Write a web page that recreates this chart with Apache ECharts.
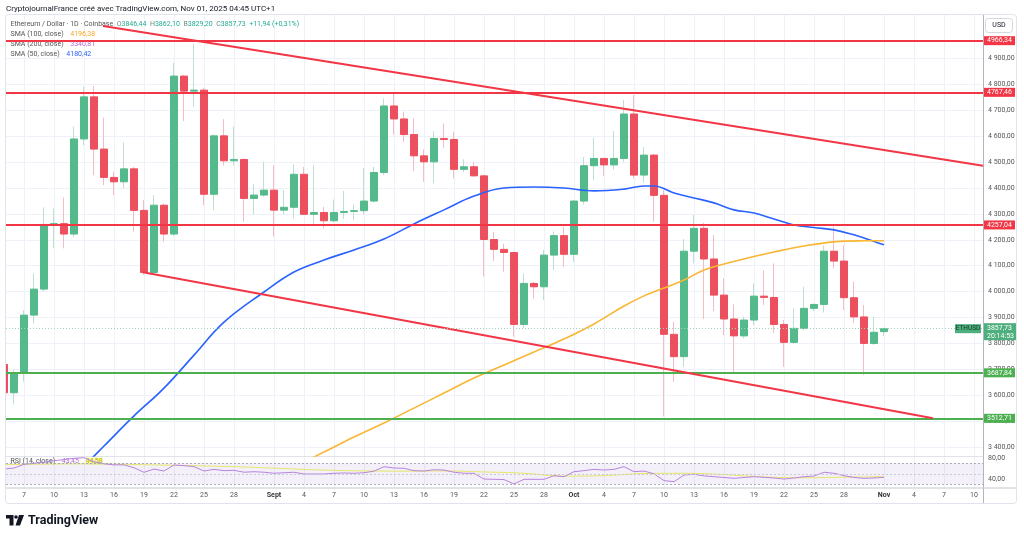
<!DOCTYPE html>
<html lang="fr">
<head>
<meta charset="UTF-8">
<title>ETHUSD 1D - Coinbase</title>
<script src="https://cdn.jsdelivr.net/npm/echarts@6/dist/echarts.min.js"></script>
<style>
    html, body { margin: 0; padding: 0; background: #fff; }
    #main { width: 1024px; height: 538px; }
</style>
</head>
<body>
<div id="main"></div>
<script>
// bougies journalières ETH/USD
var dates = ['08-05','08-06','08-07','08-08','08-09','08-10','08-11','08-12','08-13','08-14','08-15','08-16','08-17','08-18','08-19','08-20','08-21','08-22','08-23','08-24','08-25','08-26','08-27','08-28','08-29','08-30','08-31',
    '09-01','09-02','09-03','09-04','09-05','09-06','09-07','09-08','09-09','09-10','09-11','09-12','09-13','09-14','09-15','09-16','09-17','09-18','09-19','09-20','09-21','09-22','09-23','09-24','09-25','09-26','09-27','09-28','09-29','09-30',
    '10-01','10-02','10-03','10-04','10-05','10-06','10-07','10-08','10-09','10-10','10-11','10-12','10-13','10-14','10-15','10-16','10-17','10-18','10-19','10-20','10-21','10-22','10-23','10-24','10-25','10-26','10-27','10-28','10-29','10-30','10-31',
    '11-01'];
var opens = [3720,3611,3688,3910,4010,4259,4262,4222,4588,4750,4549,4440,4423,4473,4313,4074,4333,4222,4830,4772,4776,4375,4600,4504,4509,4359,4372,
    4391,4314,4325,4452,4298,4305,4273,4305,4309,4312,4349,4459,4715,4665,4605,4523,4500,4590,4586,4471,4481,4446,4201,4163,4151,3874,4032,4019,4141,4216,
    4144,4349,4485,4513,4488,4513,4684,4449,4526,4371,3836,3750,4156,4244,4126,3987,3895,3830,3891,3983,3978,3874,3805,3859,3936,3951,4156,4118,3977,3903,3801,
    3846.44];
var highs = [3745,3700,3929,4070,4325,4321,4363,4635,4789,4792,4670,4462,4575,4481,4353,4372,4340,4881,4835,4953,4785,4605,4664,4635,4512,4413,4500,
    4487,4391,4490,4481,4487,4327,4355,4388,4336,4476,4481,4744,4763,4693,4667,4548,4618,4648,4616,4510,4500,4450,4231,4185,4155,4070,4038,4160,4232,4250,
    4352,4519,4593,4515,4618,4738,4757,4557,4530,4391,3884,4203,4295,4265,4218,4051,3951,3905,4032,4082,4109,3891,3936,4019,3955,4179,4250,4179,4039,3949,3903,
    3862.10];
var lows = [3600,3566,3654,3878,4000,4167,4167,4210,4564,4449,4410,4372,4398,4231,4065,4066,4192,4215,4657,4712,4333,4314,4485,4485,4269,4298,4366,
    4212,4298,4282,4295,4254,4244,4268,4280,4276,4296,4344,4449,4605,4577,4464,4423,4417,4554,4436,4460,4443,4058,4118,4077,3827,3860,3974,3968,4083,4096,
    4115,4336,4430,4445,4470,4500,4436,4420,4269,3520,3653,3711,4109,3895,3925,3833,3686,3820,3872,3949,3840,3711,3800,3852,3925,3920,4090,3929,3880,3679,3795,
    3829.20];
var closes = [3611,3688,3910,4010,4259,4262,4222,4588,4750,4549,4440,4423,4473,4313,4074,4333,4222,4830,4772,4776,4375,4600,4504,4509,4359,4372,4391,
    4314,4325,4452,4298,4305,4273,4305,4309,4312,4349,4459,4715,4665,4605,4523,4500,4590,4586,4471,4481,4446,4201,4163,4151,3874,4032,4019,4141,4216,4144,
    4349,4485,4513,4488,4513,4684,4449,4526,4371,3836,3750,4156,4244,4126,3987,3895,3830,3891,3983,3978,3874,3805,3859,3936,3951,4156,4118,3977,3903,3801,3844,
    3857.73];

// moyennes mobiles
var sma50Dates = ['08-11','08-13','08-15','08-18','08-21','08-24','08-27','08-31','09-03','09-06','09-09','09-12','09-15','09-18','09-21','09-24','09-27','09-30','10-03','10-06','10-08','10-09','10-11','10-13','10-15','10-17','10-19','10-21','10-23','10-25','10-27','10-29','10-30','11-01'];
var sma50Values = [3253,3329,3406,3522,3629,3756,3883,3999,4076,4122,4161,4203,4261,4315,4368,4399,4403,4399,4388,4395,4407,4407,4380,4361,4342,4315,4303,4280,4257,4247,4238,4219,4207,4180.42];
var sma100Dates = ['09-03','09-06','09-09','09-12','09-15','09-18','09-21','09-24','09-27','09-30','10-03','10-06','10-08','10-10','10-12','10-14','10-16','10-18','10-21','10-24','10-27','10-30','11-01'];
var sma100Values = [3326,3383,3441,3495,3552,3610,3668,3718,3768,3818,3876,3945,3984,4014,4045,4084,4107,4126,4153,4176,4192,4196,4196.38];

// RSI (14) et sa moyenne
var rsiValues = [59,61,68,70,72,75,77,79.5,80.7,73,69,67,67,61.6,52.8,59,55.3,66.8,65.5,63.6,55.3,58.5,56,56.6,53,54,53,
    51,52,53,49.6,49.6,49.6,51,51.5,51,52,55,63.6,61,60.5,56,55.3,57.8,57,53,51,51,40,39.5,39,30.6,39.5,39.5,39.5,46.4,44.5,
    54,56,58.5,57.2,58.5,63.6,54,55.3,50,37,35,47.7,49,46,44.5,43,41.4,43,44.5,43.3,42,40,42,44.5,45.8,53,51,46.5,43,41.4,42,
    43.45];
var rsiMaDates = ['08-05','08-09','08-13','08-17','08-21','08-25','08-29','09-02','09-06','09-10','09-14','09-18','09-22','09-26','09-30','10-04','10-08','10-12','10-16','10-20','10-24','10-28','11-01'];
var rsiMaValues = [67.5,68.5,69,68,66.5,65,63,60,57,55.5,55,55.5,53.5,51,45.5,46.5,50.5,51,48.5,44,42.5,43.5,44.58];

// niveaux tracés
var resistances = [4966.34, 4767.46, 4257.04];
var supports = [3687.84, 3512.71];
var upperTrend = [['08-15', 5023], ['11-10', 4485]];
var lowerTrend = [['08-19', 4075], ['11-05', 3512.71]];

// graduations
var dateTicks = ['08-07','08-10','08-13','08-16','08-19','08-22','08-25','08-28','09-01','09-04','09-07','09-10','09-13','09-16','09-19','09-22','09-25','09-28',
    '10-01','10-04','10-07','10-10','10-13','10-16','10-19','10-22','10-25','10-28','11-01','11-04','11-07','11-10'];
var monthNames = {8: 'Sept', 9: 'Oct', 10: 'Nov'};
var priceTicks = [3400,3500,3600,3700,3800,3900,4000,4100,4200,4300,4400,4500,4600,4700,4800,4900];
var rsiTicks = [40, 80];

var FONT = 'Roboto, "Noto Sans", sans-serif';
var UP = '#55ba8b', DOWN = '#ec505e';
var GRID = '#eef1f7';
var RED = '#f23645', GREEN = '#4caf50';

function dayIndex(md) {
    return (Date.UTC(2025, +md.slice(0, 2) - 1, +md.slice(3, 5)) - Date.UTC(2025, 7, 7)) / 86400000;
}
function fr(v, group) {
    var s = v.toFixed(2).split('.');
    var i = group ? s[0].replace(/\B(?=(\d{3})+(?!\d))/g, ' ') : s[0];
    return i + ',' + s[1];
}
function dateLabel(d) {
    var t = new Date(Date.UTC(2025, 7, 7) + Math.round(d) * 86400000);
    if (t.getUTCDate() === 1) return '{m|' + monthNames[t.getUTCMonth()] + '}';
    return String(t.getUTCDate());
}

var tickDays = dateTicks.map(dayIndex);
var wickData = dates.map(function (d, i) { return [dayIndex(d), opens[i], closes[i], lows[i], highs[i]]; });
var bodyData = dates.map(function (d, i) {
    return [dayIndex(d), opens[i], closes[i], Math.min(opens[i], closes[i]), Math.max(opens[i], closes[i])];
});
function pairs(ds, vs) { return ds.map(function (d, i) { return [dayIndex(d), vs[i]]; }); }
var rsiData = pairs(dates, rsiValues);
var lastClose = closes[closes.length - 1];

var levelLines = [];
resistances.forEach(function (v) {
    levelLines.push({ yAxis: v, lineStyle: { color: RED, width: 2, type: 'solid' },
        label: { show: true, position: 'end', distance: 1, formatter: fr(v), color: '#fff', backgroundColor: RED, padding: [1, 3, 1, 3], fontSize: 7, fontFamily: FONT } });
});
supports.forEach(function (v) {
    levelLines.push({ yAxis: v, lineStyle: { color: GREEN, width: 2, type: 'solid' },
        label: { show: true, position: 'end', distance: 1, formatter: fr(v), color: '#fff', backgroundColor: GREEN, padding: [1, 3, 1, 3], fontSize: 7, fontFamily: FONT } });
});
[upperTrend, lowerTrend].forEach(function (t) {
    levelLines.push([{ coord: [dayIndex(t[0][0]) - 0.1, t[0][1]], lineStyle: { color: RED, width: 2, type: 'solid' } },
        { coord: [dayIndex(t[1][0]) + 0.9, t[1][1]] }]);
});
levelLines.push({ yAxis: lastClose, lineStyle: { color: '#9fd3b8', width: 1, type: [1, 2] } });

var chart = echarts.init(document.getElementById('main'));
var option = {
    animation: false,
    backgroundColor: '#ffffff',
    textStyle: { fontFamily: FONT },
    grid: [
        { left: 6, top: 15, width: 977, height: 441, outerBoundsMode: 'none' },
        { left: 6, top: 457, width: 977, height: 30.5, outerBoundsMode: 'none' }
    ],
    xAxis: [
        { type: 'value', gridIndex: 0, min: -1.8, max: 95.9,
            axisLine: { show: false }, axisTick: { show: false, customValues: tickDays },
            axisLabel: { show: false, customValues: tickDays },
            splitLine: { show: true, lineStyle: { color: GRID, width: 1 } } },
        { type: 'value', gridIndex: 1, min: -1.8, max: 95.9,
            axisLine: { show: false }, axisTick: { show: false, customValues: tickDays },
            axisLabel: { customValues: tickDays, formatter: dateLabel, fontSize: 7, color: '#555', margin: 4,
                rich: { m: { fontSize: 7, fontWeight: 'bold', color: '#333' } } },
            splitLine: { show: true, lineStyle: { color: GRID, width: 1 } } }
    ],
    yAxis: [
        { type: 'value', gridIndex: 0, position: 'right', min: 3367.7, max: 5065.1, scale: true,
            axisLine: { show: false }, axisTick: { show: false, customValues: priceTicks },
            axisLabel: { customValues: priceTicks, formatter: function (v) { return fr(v, true); }, fontSize: 7, color: '#555', margin: 5, align: 'left' },
            splitLine: { show: true, lineStyle: { color: GRID, width: 1 } } },
        { type: 'value', gridIndex: 1, position: 'right', min: 23.9, max: 82, scale: true,
            axisLine: { show: false }, axisTick: { show: false, customValues: rsiTicks },
            axisLabel: { customValues: rsiTicks, formatter: function (v) { return fr(v); }, fontSize: 7, color: '#555', margin: 5, align: 'left' },
            splitLine: { show: false } }
    ],
    series: [
        { type: 'candlestick', name: 'wicks', xAxisIndex: 0, yAxisIndex: 0, data: wickData, barWidth: 1, clip: true, z: 2, silent: true,
            itemStyle: { color: '#bfe0d0', color0: '#f5bcc3', borderColor: '#bfe0d0', borderColor0: '#f5bcc3', borderWidth: 1 } },
        { type: 'candlestick', name: 'ETHUSD', xAxisIndex: 0, yAxisIndex: 0, data: bodyData, barWidth: 8, clip: true, z: 3, silent: true,
            itemStyle: { color: UP, color0: DOWN, borderColor: UP, borderColor0: DOWN, borderWidth: 1 } },
        { type: 'line', name: 'SMA 50', xAxisIndex: 0, yAxisIndex: 0, data: pairs(sma50Dates, sma50Values), smooth: 0.4, showSymbol: false, clip: true, z: 4,
            lineStyle: { color: '#2962ff', width: 1.6 } },
        { type: 'line', name: 'SMA 100', xAxisIndex: 0, yAxisIndex: 0, data: pairs(sma100Dates, sma100Values), smooth: 0.4, showSymbol: false, clip: true, z: 4,
            lineStyle: { color: '#f9b633', width: 1.6 } },
        { type: 'line', name: 'levels', xAxisIndex: 0, yAxisIndex: 0, data: [], z: 5,
            markLine: { symbol: ['none', 'none'], silent: true, animation: false, z: 6, label: { show: false }, data: levelLines } },
        { type: 'line', name: 'RSI', xAxisIndex: 1, yAxisIndex: 1, data: rsiData, showSymbol: false, clip: true, z: 4,
            lineStyle: { color: '#b884de', width: 1 },
            markArea: { silent: true, itemStyle: { color: 'rgba(126,87,194,0.09)' }, data: [[{ yAxis: 70 }, { yAxis: 30 }]] },
            markLine: { symbol: ['none', 'none'], silent: true, label: { show: false },
                lineStyle: { color: '#a9acb5', type: [2, 2], width: 1 },
                data: [{ yAxis: 70 }, { yAxis: 50, lineStyle: { color: '#c9cbd2' } }, { yAxis: 30 }] } },
        { type: 'line', name: 'RSI MA', xAxisIndex: 1, yAxisIndex: 1, data: pairs(rsiMaDates, rsiMaValues), smooth: 0.4, showSymbol: false, clip: true, z: 3,
            lineStyle: { color: '#e6e66a', width: 1 } }
    ]
};
chart.setOption(option);

// textes, cadre et étiquettes fixes
var py = chart.convertToPixel({ yAxisIndex: 0 }, lastClose);
chart.setOption({
    graphic: [
        { type: 'rect', silent: true, z: 50, shape: { x: 0, y: 14, width: 5.5, height: 490 }, style: { fill: '#fff' } },
        { type: 'rect', silent: true, z: 51, shape: { x: 5.5, y: 14.5, width: 1011, height: 489, r: 3 }, style: { fill: null, stroke: '#e0e3eb', lineWidth: 1 } },
        { type: 'line', silent: true, shape: { x1: 983.5, y1: 15, x2: 983.5, y2: 503 }, style: { stroke: '#b2b5be', lineWidth: 1 } },
        { type: 'line', silent: true, shape: { x1: 6, y1: 456.5, x2: 983, y2: 456.5 }, style: { stroke: '#e0e3eb', lineWidth: 1 } },
        { type: 'line', silent: true, shape: { x1: 6, y1: 488, x2: 1016, y2: 488 }, style: { stroke: '#c3c6ce', lineWidth: 1 } },
        { type: 'text', silent: true, style: { x: 6, y: 9, text: 'CryptojournalFrance créé avec TradingView.com, Nov 01, 2025 04:45 UTC+1',
            font: '8px ' + FONT, fill: '#131722', textVerticalAlign: 'middle' } },
        { type: 'text', silent: true, style: { x: 10.5, y: 24.5, textVerticalAlign: 'middle', font: '7px ' + FONT,
            text: '{g|Ethereum / Dollar · 1D · Coinbase}  {l|O}{v|3846,44}  {l|H}{v|3862,10}  {l|B}{v|3829,20}  {l|C}{v|3857,73}  {v|+11,94 (+0,31%)}',
            rich: { g: { fill: '#555', font: '7px ' + FONT }, l: { fill: '#6b8f7e', font: '7px ' + FONT }, v: { fill: '#22ab94', font: '7px ' + FONT } } } },
        { type: 'text', silent: true, style: { x: 10.5, y: 34.5, textVerticalAlign: 'middle', text: '{g|SMA (100, close)}  {v|4196,38}',
            rich: { g: { fill: '#555', font: '7px ' + FONT }, v: { fill: '#f9a825', font: '7px ' + FONT } } } },
        { type: 'text', silent: true, style: { x: 10.5, y: 44.5, textVerticalAlign: 'middle', text: '{g|SMA (200, close)}  {v|3340,81}',
            rich: { g: { fill: '#555', font: '7px ' + FONT }, v: { fill: '#b36bd6', font: '7px ' + FONT } } } },
        { type: 'text', silent: true, style: { x: 10.5, y: 54.5, textVerticalAlign: 'middle', text: '{g|SMA (50, close)}  {v|4180,42}',
            rich: { g: { fill: '#555', font: '7px ' + FONT }, v: { fill: '#2962ff', font: '7px ' + FONT } } } },
        { type: 'text', silent: true, style: { x: 10.5, y: 461, textVerticalAlign: 'middle', text: '{g|RSI (14, close)}  {p|43,45}  {y|44,58}',
            rich: { g: { fill: '#555', font: '7px ' + FONT }, p: { fill: '#b36bd6', font: '7px ' + FONT },
                y: { fill: '#b8b800', font: '7px ' + FONT, backgroundColor: '#f7f7b0' } } } },
        { type: 'rect', silent: true, shape: { x: 985.5, y: 18.5, width: 27, height: 14, r: 3 }, style: { fill: '#fff', stroke: '#d6d8de' } },
        { type: 'text', silent: true, style: { x: 999, y: 25.5, text: 'USD', font: '7px ' + FONT, fill: '#131722', textAlign: 'center', textVerticalAlign: 'middle' } },
        { type: 'rect', silent: true, z: 20, shape: { x: 955, y: py - 4.5, width: 26, height: 9 }, style: { fill: '#4caf7d' } },
        { type: 'text', silent: true, z: 21, style: { x: 968, y: py, text: 'ETHUSD', font: '6.5px ' + FONT, fill: '#123324', textAlign: 'center', textVerticalAlign: 'middle' } },
        { type: 'rect', silent: true, z: 20, shape: { x: 984, y: py - 5.5, width: 32, height: 17 }, style: { fill: '#4caf7d' } },
        { type: 'text', silent: true, z: 21, style: { x: 987, y: py - 0.5, text: fr(lastClose) + '\n20:14:53', font: '7px ' + FONT, lineHeight: 8,
            fill: '#fff', textVerticalAlign: 'top', textAlign: 'left' }, y: -4 },
        { type: 'polygon', silent: true, shape: { points: [[6, 515], [13.5, 515], [13.5, 525.5], [9.5, 525.5], [9.5, 518.5], [6, 518.5]] }, style: { fill: '#131722' } },
        { type: 'circle', silent: true, shape: { cx: 16, cy: 517, r: 1.8 }, style: { fill: '#131722' } },
        { type: 'polygon', silent: true, shape: { points: [[19, 515], [24, 515], [20, 525.5], [15.5, 525.5]] }, style: { fill: '#131722' } },
        { type: 'text', silent: true, style: { x: 28, y: 520.5, text: 'TradingView', font: 'bold 12.5px ' + FONT, fill: '#131722', textVerticalAlign: 'middle' } }
    ]
});
</script>
</body>
</html>
